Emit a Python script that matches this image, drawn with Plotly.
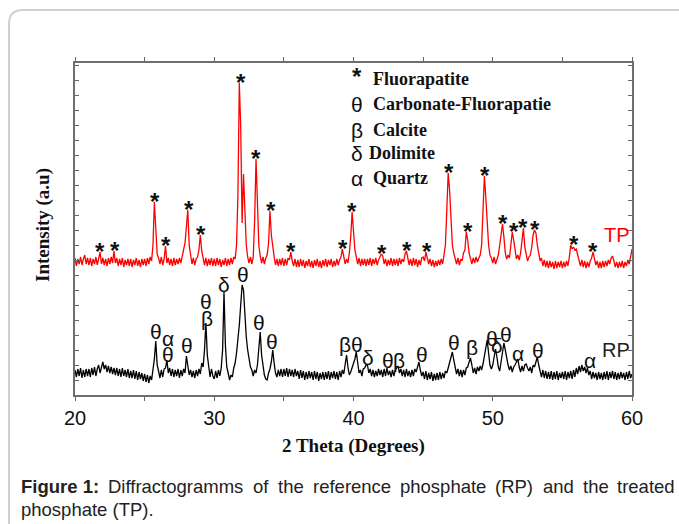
import plotly.graph_objects as go

# ---- data ----
two_theta = [round(20 + 0.1 * i, 1) for i in range(401)]

tp_intensity = [
    137,129,136,131,138,130,136,140,131,137,  # 20
    130,137,129,136,131,138,130,137,143,131,  # 21
    137,130,136,129,137,131,138,132,144,132,  # 22
    137,129,136,130,137,128,135,130,136,129,  # 23
    136,128,135,130,137,129,135,128,136,130,  # 24
    136,129,137,131,138,134,150,193,160,141,  # 25
    137,131,138,130,136,149,132,137,130,136,  # 26
    129,137,130,136,131,137,132,140,145,152,  # 27
    168,185,150,138,131,137,130,136,138,145,  # 28
    160,144,136,130,137,129,136,130,137,129,  # 29
    136,129,137,130,136,128,135,130,137,129,  # 30
    136,130,137,131,138,136,150,200,312,268,  # 31
    172,221,185,150,138,132,138,131,138,175,  # 32
    236,190,150,139,132,138,131,137,140,152,  # 33
    184,160,145,138,130,136,129,136,130,137,  # 34
    129,136,130,137,135,143,134,129,136,128,  # 35
    135,128,136,129,135,127,134,129,136,128,  # 36
    134,127,135,129,136,128,134,127,135,129,  # 37
    136,128,135,130,136,128,134,129,136,130,  # 38
    135,138,146,137,131,136,132,142,158,183,  # 39
    160,145,138,131,137,129,136,130,136,129,  # 40
    136,130,137,129,136,131,137,130,135,138,  # 41
    141,139,131,136,129,135,130,137,129,136,  # 42
    130,136,129,137,131,136,133,141,144,137,  # 43
    130,136,129,137,130,136,128,135,130,137,  # 44
    138,134,143,137,131,136,129,135,128,134,  # 45
    129,135,130,136,131,140,150,185,222,205,  # 46
    175,150,142,137,131,137,130,136,134,142,  # 47
    145,163,155,142,136,131,137,132,138,133,  # 48
    137,140,150,185,219,198,172,150,140,137,  # 49
    132,138,131,137,140,150,163,171,158,142,  # 50
    136,140,137,150,163,155,143,136,140,135,  # 51
    142,155,167,148,139,134,138,140,148,160,  # 52
    165,162,150,140,134,137,129,135,128,134,  # 53
    127,134,128,133,126,134,127,133,128,134,  # 54
    127,133,128,134,129,138,150,146,148,145,  # 55
    146,140,134,129,135,128,134,127,133,128,  # 56
    134,137,143,136,130,134,127,133,127,134,  # 57
    128,134,129,135,131,137,139,134,128,133,  # 58
    127,133,128,134,127,133,129,135,131,138,  # 59
    146,
]

rp_intensity = [
    25,18,26,19,27,17,25,18,26,19,  # 20
    26,18,27,20,28,19,26,30,22,29,  # 21
    33,26,30,23,29,22,28,21,27,20,  # 22
    27,19,26,18,27,19,25,18,26,17,  # 23
    24,17,25,16,24,15,23,16,22,14,  # 24
    21,13,20,12,19,15,25,36,54,30,  # 25
    24,17,25,18,26,27,35,22,27,19,  # 26
    26,18,25,19,26,17,25,19,26,22,  # 27
    39,27,20,25,18,24,17,25,19,26,  # 28
    21,32,28,45,72,40,25,18,26,19,  # 29
    16,24,17,25,19,27,45,103,50,28, # 30
    22,15,20,18,27,32,42,55,70,90,  # 31
    110,105,80,58,45,35,28,25,19,25,  # 32
    22,30,45,63,40,28,20,16,15,22,  # 33
    26,33,45,32,22,18,25,19,26,18,  # 34
    26,19,27,18,26,19,25,18,26,19,  # 35
    24,16,25,17,24,15,23,16,24,17,  # 36
    23,15,24,16,23,14,22,16,23,15,  # 37
    23,16,24,15,23,17,24,16,23,15,  # 38
    24,18,25,21,33,40,28,20,23,27,  # 39
    30,36,43,33,22,25,19,26,27,30,  # 40
    30,22,26,19,25,18,24,19,26,20,  # 41
    25,18,26,19,27,20,24,18,25,19,  # 42
    25,27,29,22,26,19,25,18,26,19,  # 43
    24,18,25,19,26,23,29,33,25,19,  # 44
    23,16,24,15,22,16,23,14,21,15,  # 45
    22,15,23,16,22,17,24,22,27,33,  # 46
    38,43,35,27,21,26,19,25,18,25,  # 47
    20,27,28,33,37,30,22,27,21,28,  # 48
    24,29,25,31,38,46,55,42,30,26,  # 49
    30,38,46,38,28,24,33,42,52,45,  # 50
    35,30,25,29,23,28,30,33,36,28,  # 51
    23,29,24,30,31,27,24,28,22,30,  # 52
    28,33,38,30,23,18,25,17,24,16,  # 53
    23,16,24,15,23,16,24,15,22,17,  # 54
    23,16,24,15,23,17,24,16,25,18,  # 55
    27,21,29,23,30,24,28,22,27,20,  # 56
    24,16,23,17,22,15,23,16,22,15,  # 57
    23,16,24,15,23,17,24,16,23,15,  # 58
    22,16,23,17,22,15,23,16,24,17,  # 59
    21,
]

# Fluorapatite (*) peaks marked on TP
star_peaks = [21.8, 22.85, 25.75, 26.5, 28.2, 29.05, 31.9, 33.0, 34.05, 35.5,
              39.25, 39.9, 42.05, 43.85, 45.25, 46.85, 48.2, 49.45, 50.75,
              51.5, 52.2, 53.0, 55.8, 57.2]

# phase labels on RP: (symbol, 2theta, intensity)
rp_labels = [
    ("θ", 25.82, 64), ("α", 26.68, 57), ("θ", 26.68, 41), ("θ", 28.04, 50),
    ("θ", 29.41, 94), ("β", 29.48, 77), ("δ", 30.70, 111), ("θ", 32.06, 121),
    ("θ", 33.21, 73), ("θ", 34.15, 54), ("β", 39.39, 51), ("θ", 40.25, 51),
    ("δ", 41.04, 38), ("θ", 42.48, 35), ("β", 43.27, 35), ("θ", 44.92, 41),
    ("θ", 47.22, 53), ("β", 48.51, 48), ("θ", 49.95, 57), ("δ", 50.31, 50),
    ("θ", 50.95, 61), ("α", 51.81, 42), ("θ", 53.25, 45), ("α", 56.98, 35),
]

legend_symbols = ["*", "θ", "β", "δ", "α"]
legend_names = ["Fluorapatite", "Carbonate-Fluorapatie", "Calcite", "Dolimite", "Quartz"]

x_ticks = [20, 30, 40, 50, 60]

caption_bold = "Figure 1:"
caption_line1 = ["Diffractogramms", "of", "the", "reference",
                 "phosphate", "(RP)", "and", "the", "treated"]
caption_line2 = "phosphate (TP)."

# ---- layout helpers (pixel geometry of the page) ----
W, H = 679, 524
L, R, T, B = 75, 632, 63, 395


def px(xp):
    return (xp - L) / (R - L)


def py(yp):
    return (B - yp) / (B - T)


SANS = "Liberation Sans, Arial"
SERIF = "Liberation Serif, Times New Roman"

# Arial advance widths (1/1000 em) used to justify the caption line
AW = {' ': 278, '(': 333, ')': 333, '.': 278, ':': 278, '1': 556, 'a': 556, 'c': 500,
      'd': 556, 'e': 556, 'f': 278, 'g': 556, 'h': 556, 'i': 222, 'm': 833, 'n': 556,
      'o': 556, 'p': 556, 'r': 333, 's': 500, 't': 278, 'D': 722, 'F': 611, 'P': 667,
      'R': 722, 'T': 611}
AWB = {'F': 611, 'i': 278, 'g': 611, 'u': 611, 'r': 389, 'e': 556, ' ': 278, '1': 556, ':': 333}
CAP_SIZE = 18.5


def wwidth(word, table):
    return sum(table[c] for c in word) * CAP_SIZE / 1000.0


fig = go.Figure()
fig.add_trace(go.Scatter(x=two_theta, y=tp_intensity, mode="lines",
                         line=dict(color="#ff0000", width=1.3), name="TP"))
fig.add_trace(go.Scatter(x=two_theta, y=rp_intensity, mode="lines",
                         line=dict(color="#000000", width=1.3), name="RP"))

ann = []
# stars above the TP peaks
for xs in star_peaks:
    near = [v for t, v in zip(two_theta, tp_intensity) if abs(t - xs) <= 0.2]
    ann.append(dict(x=xs, y=max(near) + 7, text="<b>*</b>", showarrow=False,
                    xanchor="center", yanchor="middle", yshift=-6,
                    font=dict(family=SANS, size=24, color="#111")))
for sym, xs, ys in rp_labels:
    ann.append(dict(x=xs, y=ys, text=sym, showarrow=False, xanchor="center",
                    yanchor="middle", font=dict(family=SANS, size=21, color="#111")))

# legend block
leg_rows_y = [316, 291, 265, 242, 217]
for i, (s, n) in enumerate(zip(legend_symbols, legend_names)):
    yy = leg_rows_y[i]
    if s == "*":
        ann.append(dict(x=40.25, y=yy + 9, text="<b>*</b>", showarrow=False, xanchor="center",
                        yanchor="middle", yshift=-6,
                        font=dict(family=SANS, size=24, color="#111")))
    else:
        ann.append(dict(x=40.25, y=yy, text=s, showarrow=False, xanchor="center",
                        yanchor="middle", font=dict(family=SANS, size=21, color="#111")))
    ann.append(dict(x=41.25 if s != "δ" else 41.0, y=yy, text="<b>%s</b>" % n,
                    showarrow=False, xanchor="left", yanchor="middle",
                    font=dict(family=SERIF, size=18, color="#111")))

# series labels
ann.append(dict(x=58.89, y=160, text="TP", showarrow=False, xanchor="center",
                yanchor="middle", font=dict(family=SANS, size=20, color="#ff0000")))
ann.append(dict(x=58.85, y=45, text="RP", showarrow=False, xanchor="center",
                yanchor="middle", font=dict(family=SANS, size=20, color="#222")))

# axis titles
ann.append(dict(xref="paper", yref="paper", x=px(43), y=py(225), text="<b>Intensity (a.u)</b>",
                textangle=-90, showarrow=False, xanchor="center", yanchor="middle",
                font=dict(family=SERIF, size=19, color="#111")))
ann.append(dict(xref="paper", yref="paper", x=0.5, y=py(446), text="<b>2 Theta (Degrees)</b>",
                showarrow=False, xanchor="center", yanchor="middle",
                font=dict(family=SERIF, size=19, color="#111")))

# caption: first line justified between x=19 and x=673
words = [(caption_bold, True)] + [(w, False) for w in caption_line1]
widths = [wwidth(w, AWB if b else AW) for w, b in words]
gap = (673 - 19 - sum(widths)) / (len(words) - 1)
xl = 19.0
for (w, b), wd in zip(words, widths):
    ann.append(dict(xref="paper", yref="paper", x=px(xl), y=py(486),
                    text="<b>%s</b>" % w if b else w,
                    showarrow=False, xanchor="left", yanchor="middle",
                    font=dict(family=SANS, size=CAP_SIZE, color="#222")))
    xl += wd + gap
ann.append(dict(xref="paper", yref="paper", x=px(19), y=py(510), text=caption_line2,
                showarrow=False, xanchor="left", yanchor="middle",
                font=dict(family=SANS, size=CAP_SIZE, color="#222")))

# rounded frame (cut by the page edges)
frame = "M %f,%f L %f,%f Q %f,%f %f,%f L %f,%f" % (
    px(9), py(540), px(9), py(24), px(9), py(10), px(23), py(10), px(700), py(10))

fig.update_layout(
    width=W, height=H, autosize=False,
    margin=dict(l=L, r=W - R, t=T, b=H - B),
    paper_bgcolor="white", plot_bgcolor="white",
    showlegend=False,
    annotations=ann,
    shapes=[dict(type="path", path=frame, xref="paper", yref="paper",
                 line=dict(color="#cfcfcf", width=2), layer="below")],
    xaxis=dict(range=[20, 60], tickvals=x_ticks, ticks="outside", ticklen=4,
               tickcolor="#666", showline=True, linecolor="#6e6e6e", linewidth=1.5,
               mirror="ticks", showgrid=False, zeroline=False,
               minor=dict(dtick=5, tick0=20, ticks="outside", ticklen=4, tickcolor="#666"),
               tickfont=dict(family=SANS, size=20, color="#111")),
    yaxis=dict(range=[0, 332], showticklabels=False, ticks="inside", ticklen=4,
               tick0=0, dtick=15, tickcolor="#666", showline=True, linecolor="#6e6e6e",
               linewidth=1.5, mirror="ticks", showgrid=False, zeroline=False),
)

fig.write_html("out.html")
